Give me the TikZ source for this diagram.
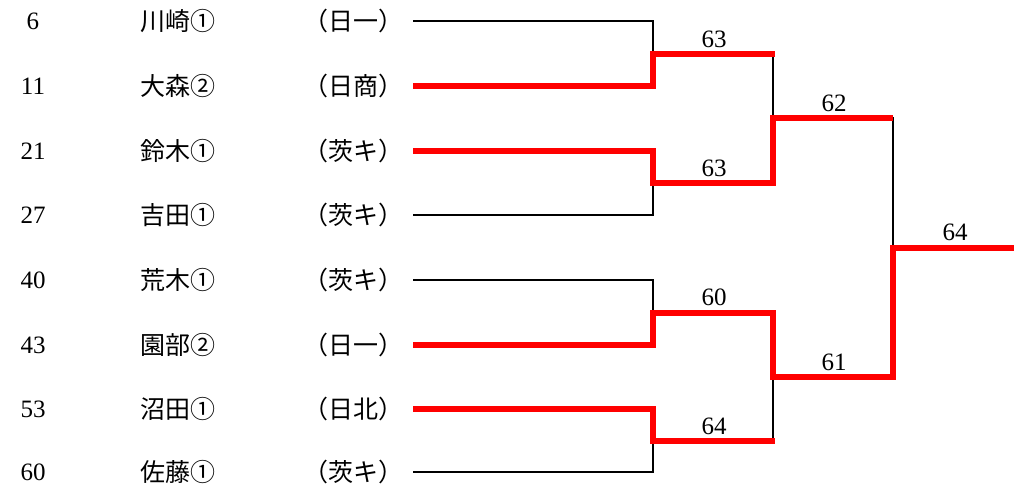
\documentclass[tikz,border=0pt]{standalone}
\usepackage{fontspec}
\newfontfamily\jp{Noto Sans CJK JP}
\newfontfamily\jph[RawFeature=+halt]{Noto Sans CJK JP}
\newfontfamily\dg{Liberation Serif}
\begin{document}
\begin{tikzpicture}[x=1pt,y=-1pt,
  num/.style={inner sep=0pt, font=\dg\fontsize{25}{25}\selectfont},
  nm/.style={inner sep=0pt, anchor=west, font=\jp\fontsize{25}{25}\selectfont},
  sch/.style={inner sep=0pt, anchor=west, font=\jph\fontsize{25}{25}\selectfont},
  lose/.style={line width=2.8pt, black},
  win/.style={line width=6pt, red},
  lbl/.style={inner sep=0pt, font=\dg\fontsize{25}{25}\selectfont}]
\useasboundingbox (0,0) rectangle (1020,488);

% entries
\node[num] (n1) at (33,21) {6};
\node[num] (n2) at (33,86) {11};
\node[num] (n3) at (33,151) {21};
\node[num] (n4) at (33,215) {27};
\node[num] (n5) at (33,280) {40};
\node[num] (n6) at (33,345) {43};
\node[num] (n7) at (33,409) {53};
\node[num] (n8) at (33,472) {60};

\node[nm] (p1) at (140,21) {川崎①};
\node[nm] (p2) at (140,86) {大森②};
\node[nm] (p3) at (140,151) {鈴木①};
\node[nm] (p4) at (140,215) {吉田①};
\node[nm] (p5) at (140,280) {荒木①};
\node[nm] (p6) at (140,345) {園部②};
\node[nm] (p7) at (140,409) {沼田①};
\node[nm] (p8) at (140,472) {佐藤①};

\node[sch] (s1) at (316,21) {（日一）};
\node[sch] (s2) at (316,86) {（日商）};
\node[sch] (s3) at (316,151) {（茨キ）};
\node[sch] (s4) at (316,215) {（茨キ）};
\node[sch] (s5) at (316,280) {（茨キ）};
\node[sch] (s6) at (316,345) {（日一）};
\node[sch] (s7) at (316,409) {（日北）};
\node[sch] (s8) at (316,472) {（茨キ）};

% coordinates
\coordinate (a1) at (413,21);
\coordinate (a2) at (413,86);
\coordinate (a3) at (413,151);
\coordinate (a4) at (413,215);
\coordinate (a5) at (413,280);
\coordinate (a6) at (413,345);
\coordinate (a7) at (413,409);
\coordinate (a8) at (413,472);
\coordinate (b1) at (653,54);
\coordinate (b2) at (653,183);
\coordinate (b3) at (653,313);
\coordinate (b4) at (653,441);
\coordinate (b1e) at (775,54);
\coordinate (b4e) at (775,441);
\coordinate (c1) at (773,118);
\coordinate (c2) at (773,377);
\coordinate (d) at (893,248);
\coordinate (e) at (1014,248);

% losing lines
\draw[lose] (a1) -| (b1);
\draw[lose] (a4) -| (b2);
\draw[lose] (a5) -| (b3);
\draw[lose] (a8) -| (b4);
\draw[lose] (b1e) ++(-2,0) -- (c1);
\draw[lose] (b4e) ++(-2,0) -- (c2);
\draw[lose] (c1) -| (d);

% winning lines
\draw[win] (a2) -| (b1) -- (b1e);
\draw[win] (a3) -| (b2) -| (c1) -- (c1 -| d);
\draw[win] (a6) -| (b3) -| (c2) -| (d) -- (e);
\draw[win] (a7) -| (b4) -- (b4e);

% scores
\node[lbl] (l1) at (714,39) {63};
\node[lbl] (l2) at (714,168) {63};
\node[lbl] (l3) at (714,297) {60};
\node[lbl] (l4) at (714,426) {64};
\node[lbl] (l5) at (834,103) {62};
\node[lbl] (l6) at (834,362) {61};
\node[lbl] (l7) at (955,232) {64};
\end{tikzpicture}
\end{document}
